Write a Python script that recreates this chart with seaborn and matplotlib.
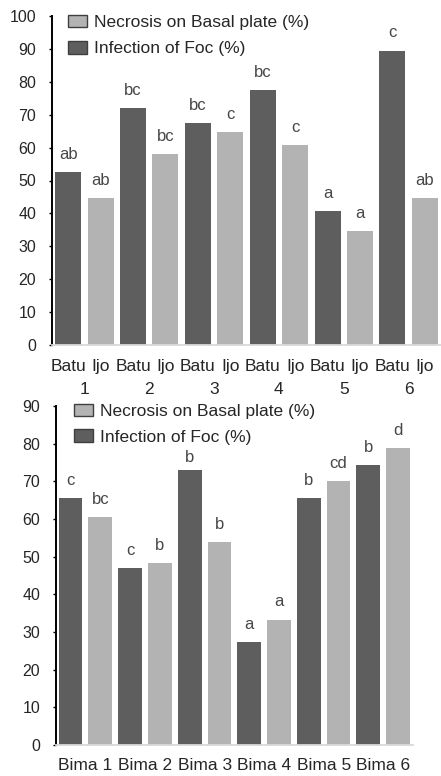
import matplotlib
matplotlib.use("Agg")
import matplotlib.pyplot as plt
from matplotlib.patches import Patch
import numpy as np
import pandas as pd
import seaborn as sns

sns.set_theme(style="white")
plt.rcParams["font.family"] = ["Liberation Sans", "DejaVu Sans"]

# ---------------- data ----------------
series_dark = "Infection of Foc (%)"
series_light = "Necrosis on Basal plate (%)"

top_groups = ["1", "2", "3", "4", "5", "6"]
top_cultivars = ["Batu", "Ijo"]
top_dark_values = [52.5, 72.0, 67.5, 77.5, 40.7, 89.5]
top_light_values = [44.6, 58.0, 64.6, 60.7, 34.6, 44.6]
top_dark_letters = ["ab", "bc", "bc", "bc", "a", "c"]
top_light_letters = ["ab", "bc", "c", "c", "a", "ab"]

bottom_groups = ["Bima 1", "Bima 2", "Bima 3", "Bima 4", "Bima 5", "Bima 6"]
bottom_dark_values = [65.5, 46.9, 73.0, 27.3, 65.5, 74.3]
bottom_light_values = [60.4, 48.3, 53.8, 33.3, 70.0, 78.9]
bottom_dark_letters = ["c", "c", "b", "a", "b", "b"]
bottom_light_letters = ["bc", "b", "b", "a", "cd", "d"]

DARK = "#5e5e5e"
LIGHT = "#b3b3b3"
palette = {series_dark: DARK, series_light: LIGHT}


def build(groups, dark, light, dl, ll):
    rows = []
    for g, d, l, a, b in zip(groups, dark, light, dl, ll):
        rows.append({"bar": f"{g}-d", "group": g, "series": series_dark, "value": d, "letter": a})
        rows.append({"bar": f"{g}-l", "group": g, "series": series_light, "value": l, "letter": b})
    return pd.DataFrame(rows)


df_top = build(top_groups, top_dark_values, top_light_values, top_dark_letters, top_light_letters)
df_bot = build(bottom_groups, bottom_dark_values, bottom_light_values, bottom_dark_letters, bottom_light_letters)

W, H = 441, 776
fig = plt.figure(figsize=(W / 100, H / 100), dpi=100)
ax1 = fig.add_axes([52 / W, 1 - 345 / H, (441 - 52) / W, 329 / H])
ax2 = fig.add_axes([55.7 / W, 31 / H, (413 - 55.7) / W, 339 / H])

TICK_COLOR = "#262626"
LETTER_COLOR = "#474747"


def draw(ax, df, ymax, offsets=None):
    sns.barplot(data=df, x="bar", y="value", hue="series", palette=palette,
                dodge=False, width=0.8, saturation=1, legend=False, ax=ax,
                linewidth=0, errorbar=None)
    ax.set_xlim(-0.5, len(df) - 0.5)
    ax.set_ylim(0, ymax)
    ax.set_yticks(np.arange(0, ymax + 1, 10))
    ax.set_xlabel("")
    ax.set_ylabel("")
    for s in ["top", "right"]:
        ax.spines[s].set_visible(False)
    ax.spines["left"].set_color("black")
    ax.spines["left"].set_linewidth(1.4)
    ax.spines["bottom"].set_color("#d9d9d9")
    ax.spines["bottom"].set_linewidth(1.3)
    ax.tick_params(axis="y", which="major", direction="out", length=2.4, width=1.0,
                   color="black", pad=8.9, labelsize=11.5, labelcolor=TICK_COLOR, left=True)
    offsets = offsets or {}
    for i, (v, t) in enumerate(zip(df["value"], df["letter"])):
        ax.annotate(t, xy=(i, v), xytext=(0, offsets.get(i, 9.5)), textcoords="offset points",
                    ha="center", va="baseline", fontsize=12, color=LETTER_COLOR)
    handles = [Patch(facecolor=LIGHT, edgecolor="#3f3f3f", linewidth=1.0, label=series_light),
               Patch(facecolor=DARK, edgecolor="#3f3f3f", linewidth=1.0, label=series_dark)]
    return handles


LEG_KW = dict(frameon=False, fontsize=12.5, borderpad=0, borderaxespad=0,
              handlelength=1.1, handleheight=0.75, handletextpad=0.4,
              labelcolor=TICK_COLOR)

# top panel
h = draw(ax1, df_top, 100)
ax1.set_xticks(range(len(df_top)))
ax1.set_xticklabels(top_cultivars * len(top_groups))
ax1.tick_params(axis="x", length=0, pad=9.9, labelsize=12.5, labelcolor=TICK_COLOR)
for k, g in enumerate(top_groups):
    ax1.annotate(g, xy=(2 * k + 0.5, 0), xycoords=("data", "axes fraction"),
                 xytext=(0, -35.3), textcoords="offset points",
                 ha="center", va="baseline", fontsize=12.5, color=TICK_COLOR,
                 annotation_clip=False)
fig.legend(handles=h, loc="upper left", bbox_to_anchor=(68 / W, 1 - 14.5 / H),
           bbox_transform=fig.transFigure, labelspacing=0.64, **LEG_KW)

# bottom panel
h = draw(ax2, df_bot, 90, offsets={4: 6.0})
ax2.set_xticks([2 * k + 0.5 for k in range(len(bottom_groups))])
ax2.set_xticklabels(bottom_groups)
ax2.tick_params(axis="x", length=0, pad=9.1, labelsize=12.5, labelcolor=TICK_COLOR)
fig.legend(handles=h, loc="upper left", bbox_to_anchor=(74 / W, 1 - 403.5 / H),
           bbox_transform=fig.transFigure, labelspacing=0.6, **LEG_KW)

fig.savefig("out.png", dpi=100)
